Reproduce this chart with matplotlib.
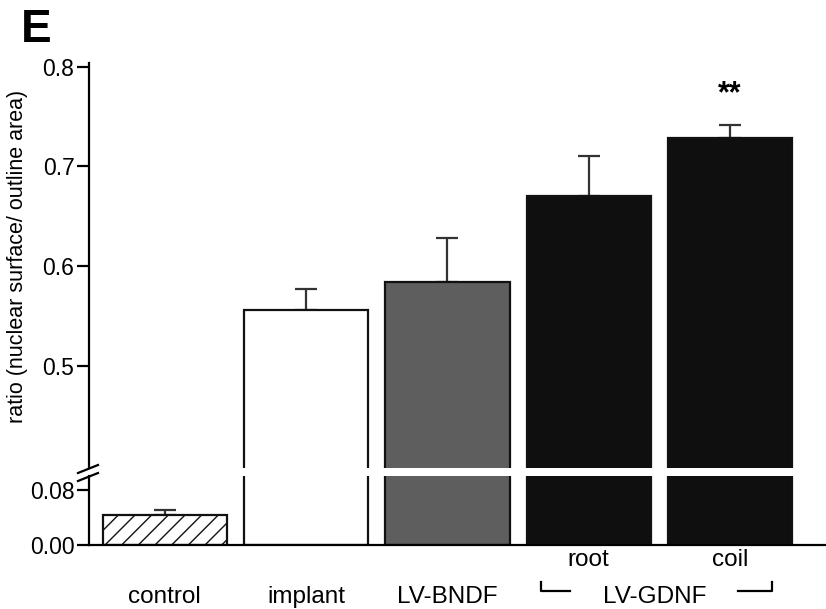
import matplotlib
matplotlib.use("Agg")
import matplotlib.pyplot as plt
from matplotlib.lines import Line2D
import numpy as np

# data
groups = ["control", "implant", "LV-BNDF", "root", "coil"]
means = [0.044, 0.556, 0.584, 0.670, 0.729]
errors = [0.007, 0.021, 0.044, 0.041, 0.013]
colors = ["white", "white", "#5e5e5e", "#0f0f0f", "#0f0f0f"]
hatches = ["//", "", "", "", ""]
upper_ticks = [0.5, 0.6, 0.7, 0.8]
lower_ticks = [0.00, 0.08]
signif = "**"


def draw_bars(ax, x):
    for xi, m, c, h in zip(x, means, colors, hatches):
        ax.bar(xi, m, width=0.88, color=c, edgecolor="#111111",
               linewidth=1.6, hatch=h, zorder=2)
    for xi, m, e in zip(x, means, errors):
        ax.errorbar(xi, m, yerr=[[0], [e]], fmt="none", ecolor="#333333",
                    elinewidth=1.6, capsize=8, capthick=1.6, zorder=1)


def main():
    plt.rcParams["font.family"] = ["Liberation Sans", "DejaVu Sans"]
    plt.rcParams["hatch.linewidth"] = 1.0

    fig = plt.figure(figsize=(8.26, 6.09), dpi=100)
    W, H = 826, 609

    # axes placed in pixel units of the reference
    left = 89 / W
    ax_up = fig.add_axes([left, 1 - 468 / H, 1 - left, (468 - 63) / H])
    ax_lo = fig.add_axes([left, 1 - 545 / H, 1 - left, (545 - 476) / H])

    x = np.arange(len(groups))
    draw_bars(ax_up, x)
    draw_bars(ax_lo, x)

    for ax in (ax_up, ax_lo):
        ax.set_xlim(-0.537, 4.68)
        ax.spines["top"].set_visible(False)
        ax.spines["right"].set_visible(False)
        ax.spines["left"].set_linewidth(1.6)
        ax.tick_params(axis="y", direction="out", length=8.5, width=1.6,
                       labelsize=16.5, pad=2)
        ax.set_xticks([])

    ax_up.spines["bottom"].set_visible(False)
    ax_up.set_ylim(0.397, 0.804)
    ax_up.set_yticks(upper_ticks, [f"{t:.1f}" for t in upper_ticks])

    ax_lo.set_ylim(0, 0.1004)
    ax_lo.spines["bottom"].set_linewidth(1.6)
    ax_lo.set_yticks(lower_ticks, [f"{t:.2f}" for t in lower_ticks])

    # axis break marks
    for y0 in (473, 481):
        fig.add_artist(Line2D([78 / W, 98 / W], [1 - y0 / H, 1 - (y0 - 8) / H],
                              color="black", linewidth=1.6))

    # category labels
    tr = ax_lo.get_xaxis_transform()
    for xi, g in zip(x[:3], groups[:3]):
        ax_lo.text(xi, -0.755, g, transform=tr, ha="center", va="center",
                   fontsize=17.5)
    for xi, g in zip(x[3:], groups[3:]):
        ax_lo.text(xi, -0.22, g, transform=tr, ha="center", va="center",
                   fontsize=17.5)
    ax_lo.text(3.47, -0.755, "LV-GDNF", transform=tr, ha="center",
               va="center", fontsize=17.5)
    ax_lo.plot([2.66, 2.66, 2.87], [-0.535, -0.665, -0.665], transform=tr,
               color="black", linewidth=1.6, clip_on=False)
    ax_lo.plot([4.06, 4.30, 4.30], [-0.665, -0.665, -0.535], transform=tr,
               color="black", linewidth=1.6, clip_on=False)

    # significance mark
    ax_up.annotate(signif, xy=(4, means[4] + errors[4]), xytext=(0, 22),
                   textcoords="offset points", ha="center", va="center",
                   fontsize=22, fontweight="bold")

    fig.text(18 / W, 1 - 256 / H, "ratio (nuclear surface/ outline area)",
             rotation=90, ha="center", va="center", fontsize=15.5)
    fig.text(21 / W, 1 - 8 / H, "E", ha="left", va="top", fontsize=33,
             fontweight="bold")

    fig.savefig("out.png", dpi=100)


if __name__ == "__main__":
    main()
